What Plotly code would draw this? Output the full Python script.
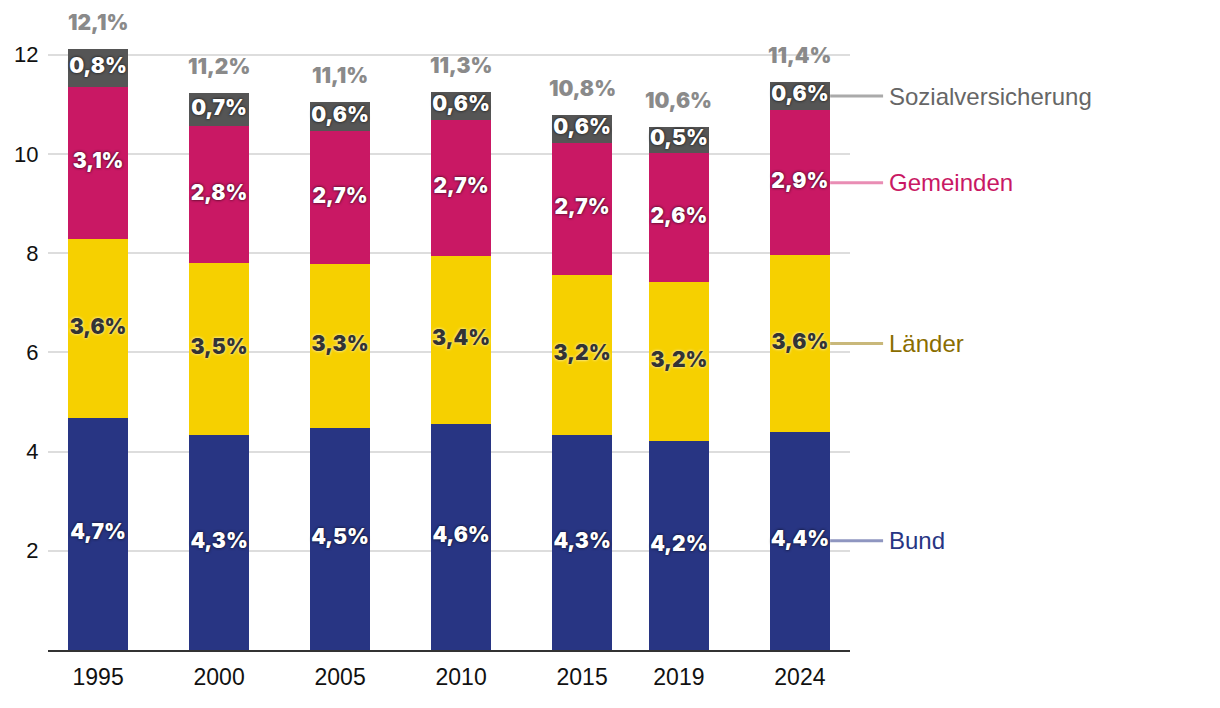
import plotly.graph_objects as go
import numpy as np

years = [1995, 2000, 2005, 2010, 2015, 2019, 2024]
bund = [4.68, 4.34, 4.48, 4.56, 4.34, 4.21, 4.40]
laender = [3.61, 3.46, 3.31, 3.39, 3.22, 3.21, 3.56]
gemeinden = [3.06, 2.76, 2.67, 2.74, 2.66, 2.59, 2.92]
sozial = [0.76, 0.67, 0.58, 0.56, 0.57, 0.54, 0.57]
totals = [12.1, 11.2, 11.1, 11.3, 10.8, 10.6, 11.4]

series = [
    ("Bund", bund, "#283583", "#ffffff", "0px 0px 3px rgba(0,0,0,0.9)", "#8f96c0", "#283583"),
    ("Länder", laender, "#f6d000", "#333333", "0px 0px 3px rgba(255,255,255,0.95)", "#c9b87a", "#8a6d00"),
    ("Gemeinden", gemeinden, "#c91864", "#ffffff", "0px 0px 3px rgba(0,0,0,0.9)", "#e98db4", "#c91864"),
    ("Sozialversicherung", sozial, "#555555", "#ffffff", "0px 0px 3px rgba(0,0,0,0.9)", "#aaaaaa", "#666666"),
]

BOLD = "Inter"
REG = "Liberation Sans"
BAR_W = 2.5
XMIN, XMAX = 1992.93, 2026.07

fig = go.Figure()
base = np.zeros(len(years))
label_pos = []
for name, vals, col, tcol, shadow, lcol, ncol in series:
    v = np.array(vals)
    fig.add_trace(go.Bar(x=years, y=v, name=name, marker=dict(color=col, line=dict(width=0)),
                         width=BAR_W, hoverinfo="skip", textposition="none"))
    mids = base + v / 2
    fig.add_trace(go.Scatter(
        x=years, y=mids, mode="text",
        text=[f"{x:.1f}%".replace(".", ",") for x in v],
        textposition="middle center",
        textfont=dict(family=BOLD, size=21, color=tcol, weight=900, shadow=shadow),
        cliponaxis=False, hoverinfo="skip", showlegend=False))
    label_pos.append((name, mids[-1], lcol, ncol))
    base = base + v

fig.update_layout(barmode="stack")

# total labels
for x, top, t in zip(years, base, totals):
    fig.add_annotation(x=x, y=top, xref="x", yref="y", text=f"{t:.1f}%".replace(".", ","),
                       showarrow=False, yanchor="bottom", yshift=12,
                       font=dict(family=BOLD, size=21, color="#8a8a8a", weight=900))

# right side labels
edge = (years[-1] + BAR_W / 2 - XMIN) / (XMAX - XMIN)
for name, ymid, lcol, ncol in label_pos:
    fig.add_shape(type="line", xref="paper", yref="y", x0=edge, x1=edge + 0.066, y0=ymid, y1=ymid,
                  line=dict(color=lcol, width=3))
    fig.add_annotation(xref="paper", yref="y", x=edge + 0.071, y=ymid, text=name, showarrow=False,
                       xanchor="left", yanchor="middle",
                       font=dict(family=REG, size=24, color=ncol))

fig.update_layout(
    width=1212, height=700,
    margin=dict(l=40, r=370, t=0, b=58),
    paper_bgcolor="white", plot_bgcolor="white",
    showlegend=False, separators=",.",
    bargap=0,
    xaxis=dict(range=[XMIN, XMAX], tickvals=years, ticktext=[str(y) for y in years],
               showgrid=False, showline=True, linecolor="#333333", linewidth=2,
               ticks="outside", ticklen=5, tickcolor="rgba(0,0,0,0)",
               tickfont=dict(family=REG, size=23, color="#111111"), zeroline=False, fixedrange=True),
    yaxis=dict(range=[0, 12.94], tickvals=[2, 4, 6, 8, 10, 12], showgrid=True, gridcolor="#dddddd",
               gridwidth=2, zeroline=False, ticks="outside", ticklen=4, tickcolor="rgba(0,0,0,0)",
               tickfont=dict(family=REG, size=22, color="#111111"), fixedrange=True),
)

fig.write_html("out.html")
